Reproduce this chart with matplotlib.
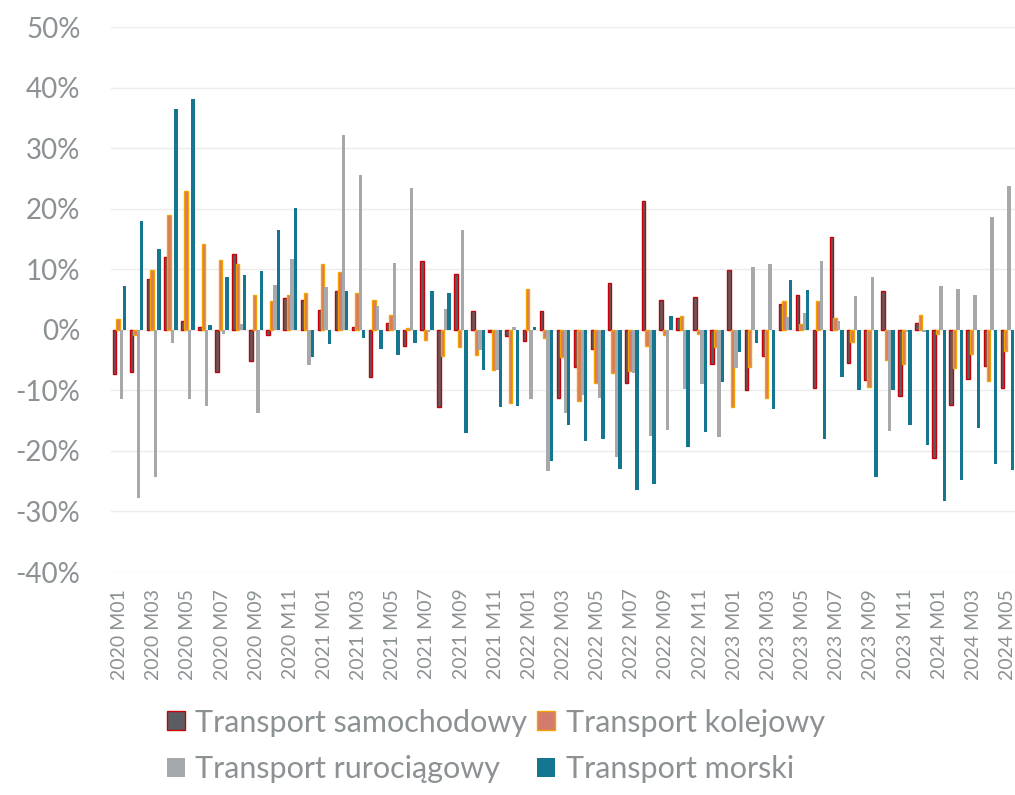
import numpy as np
import matplotlib
matplotlib.use('Agg')
import matplotlib.pyplot as plt
from matplotlib.ticker import FuncFormatter

plt.rcParams['font.family'] = ['Lato', 'DejaVu Sans']

# Monthly y/y change, % (2020 M01 .. 2024 M05)
months = [f'{y} M{m:02d}' for y in range(2020, 2025) for m in range(1, 13)][:53]

samochodowy = [-7.3, -7.0, 8.4, 12.0, 1.5, 0.4, -7.0, 12.5, -5.2, -0.9, 5.3, 4.9,
               3.2, 6.4, 0.4, -7.8, 1.2, -2.6, 11.4, -12.8, 9.2, 3.1, -0.3, -1.0,
               -1.9, 3.1, -11.3, -6.2, -3.1, 7.8, -8.8, 21.3, 5.0, 1.9, 5.4, -5.6,
               9.8, -9.9, -4.4, 4.3, 5.8, -9.6, 15.4, -5.5, -8.3, 6.4, -11.0, 1.1,
               -21.1, -12.4, -8.1, -6.0, -9.6]
kolejowy = [1.7, -0.9, 9.8, 19.0, 22.9, 14.1, 11.5, 10.8, 5.7, 4.7, 5.8, 6.1,
            10.8, 9.6, 6.0, 5.0, 2.4, 0.3, -1.7, -4.4, -2.8, -4.1, -6.6, -12.1,
            6.8, -1.4, -4.5, -11.7, -8.8, -7.1, -6.8, -2.6, -0.8, 2.2, -0.7, -2.9,
            -12.8, -6.2, -11.3, 4.7, 1.0, 4.7, 1.9, -2.0, -9.4, -5.0, -5.6, 2.5,
            -0.7, -6.3, -4.0, -8.4, -3.5]
rurociagowy = [-11.5, -27.7, -24.3, -2.1, -11.5, -12.6, -0.7, 1.0, -13.8, 7.4, 11.7, -5.8,
               7.0, 32.1, 25.6, 4.0, 11.1, 23.4, -0.4, 3.5, 16.4, -3.4, -6.6, 0.4,
               -11.5, -23.3, -13.7, -10.8, -11.2, -21.0, -7.1, -17.5, -16.5, -9.7, -8.9, -17.7,
               -6.3, 10.4, 10.8, 2.1, 2.8, 11.3, 1.5, 5.5, 8.7, -16.7, -0.4, -0.4,
               7.2, 6.8, 5.7, 18.6, 23.7]
morski = [7.2, 18.0, 13.4, 36.4, 38.1, 0.8, 8.8, 9.0, 9.7, 16.5, 20.1, -4.5,
          -2.4, 6.4, -1.4, -3.2, -4.2, -2.2, 6.4, 6.1, -17.1, -6.7, -12.7, -12.6,
          0.5, -21.6, -15.7, -18.3, -18.1, -23.0, -26.5, -25.4, 2.3, -19.3, -16.9, -8.6,
          -3.7, -2.1, -13.0, 8.2, 6.5, -18.0, -7.8, -9.9, -24.3, -9.9, -15.8, -19.1,
          -28.3, -24.8, -16.3, -22.2, -23.1]

series = [
    ('Transport samochodowy', samochodowy, '#5a5e62', '#c8000a'),
    ('Transport kolejowy', kolejowy, '#d47b6c', '#f5a300'),
    ('Transport rurociągowy', rurociagowy, '#a6a9ac', 'none'),
    ('Transport morski', morski, '#14768f', 'none'),
]

text_col = '#8c9194'

fig = plt.figure(figsize=(10.15, 7.95), dpi=100)
ax = fig.add_axes([0.1094, 0.2805, 0.8916, 0.6855])

x = np.arange(len(months))
w = 0.2
bars = []
for k, (name, vals, fc, ec) in enumerate(series):
    b = ax.bar(x + (k - 1.5) * w, vals, width=w, color=fc, edgecolor=ec,
               linewidth=1.0 if ec != 'none' else 0, label=name, zorder=3)
    bars.append(b)

ax.set_xlim(-0.5, len(months) - 0.5)
ax.set_ylim(-40, 50)
ax.set_yticks(np.arange(-40, 51, 10))
ax.yaxis.set_major_formatter(FuncFormatter(lambda v, p: f'{v:.0f}%'))
ax.set_xticks(x[::2])
ax.set_xticklabels(months[::2], rotation=90)
ax.grid(axis='y', color='#ececec', linewidth=1.0, zorder=0)
for s in ax.spines.values():
    s.set_visible(False)
ax.tick_params(axis='both', length=0, colors=text_col)
ax.tick_params(axis='y', labelsize=20, pad=22)
ax.tick_params(axis='x', labelsize=14, pad=12)

# row-major order in a two-column legend
order = [0, 2, 1, 3]
fig.legend([bars[i] for i in order], [series[i][0] for i in order],
           loc='upper left', bbox_to_anchor=(0.149, 0.128), ncol=2, frameon=False,
           fontsize=22, labelcolor=text_col, borderpad=0, handlelength=0.6,
           handleheight=0.6, handletextpad=0.33, columnspacing=0.33, labelspacing=0.62)

fig.savefig('out.png', dpi=100)
